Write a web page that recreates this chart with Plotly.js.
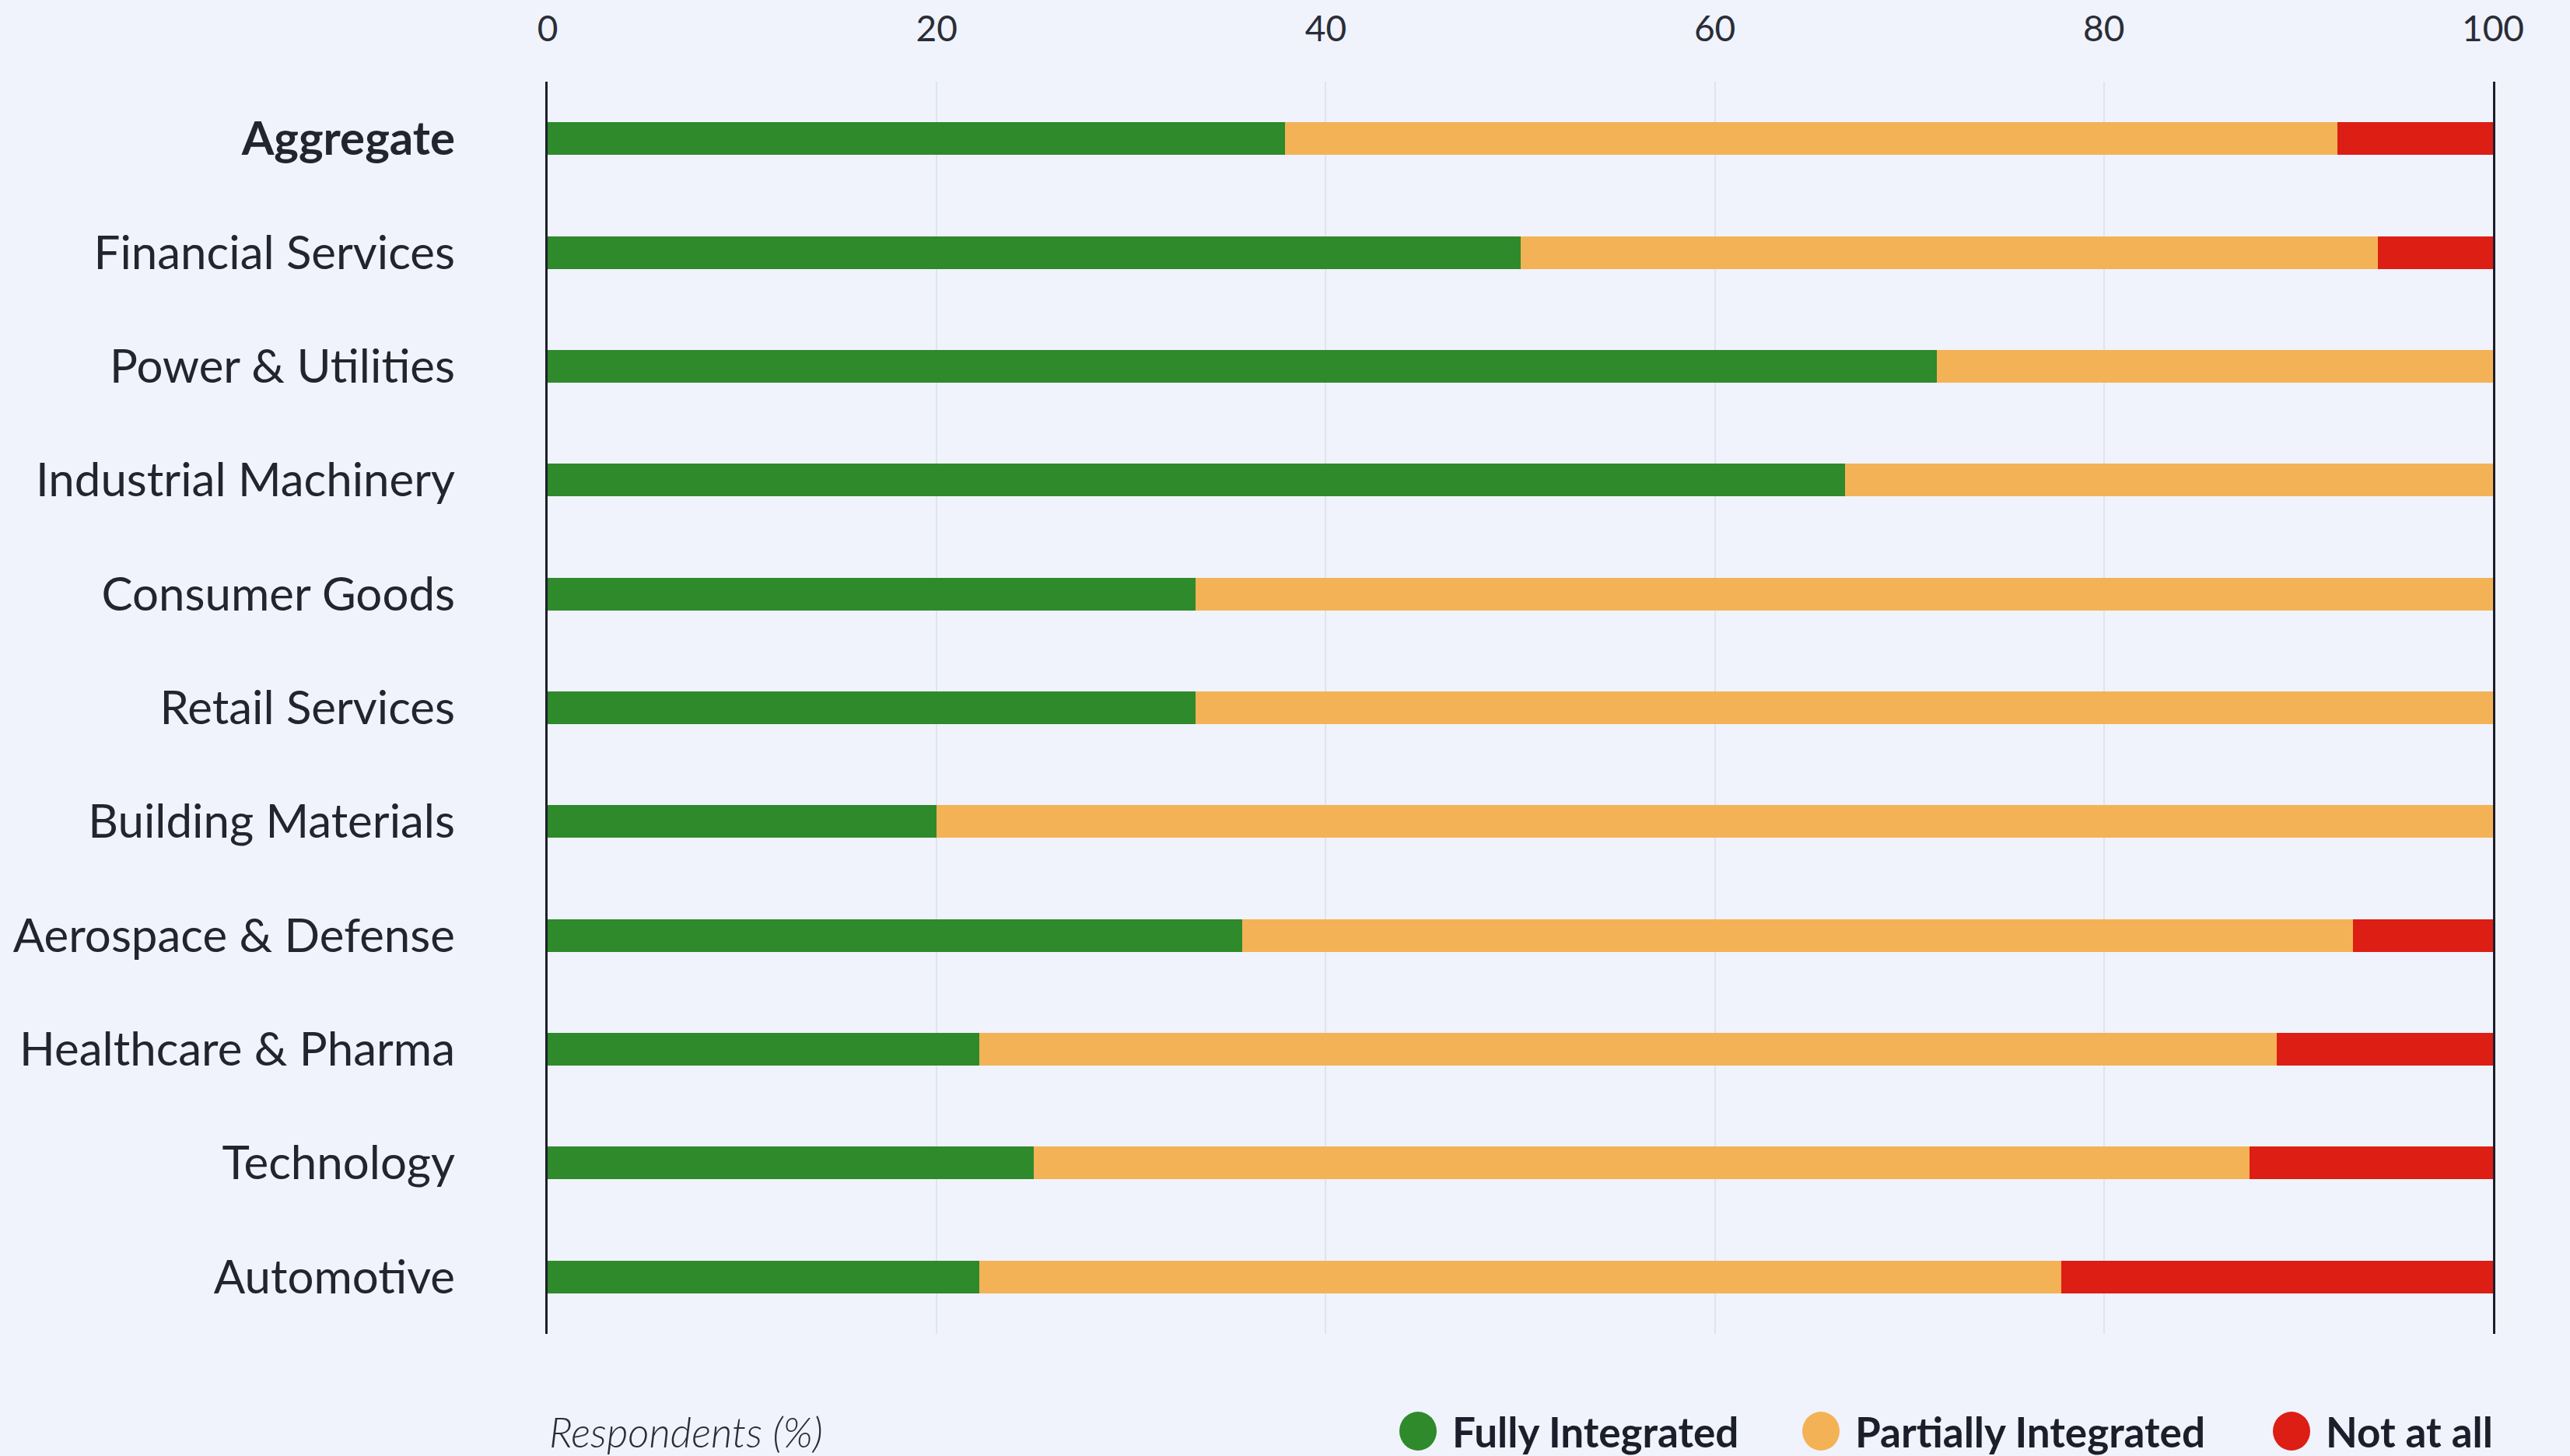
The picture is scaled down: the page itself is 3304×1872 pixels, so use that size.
<!DOCTYPE html>
<html>
<head>
<meta charset="utf-8">
<script src="https://cdn.plot.ly/plotly-3.0.1.min.js"></script>
<style>
  html, body { margin: 0; padding: 0; background: #f0f3fb; }
  #chart { width: 3304px; height: 1872px; }
</style>
</head>
<body>
<div id="chart"></div>
<script>
// ---- Data (respondents, %) ----
const categories = [
  "Aggregate", "Financial Services", "Power & Utilities", "Industrial Machinery",
  "Consumer Goods", "Retail Services", "Building Materials", "Aerospace & Defense",
  "Healthcare & Pharma", "Technology", "Automotive"
];
const fullyIntegrated     = [37.9, 50.0, 71.4, 66.7, 33.3, 33.3, 20.0, 35.7, 22.2, 25.0, 22.2];
const partiallyIntegrated = [54.1, 44.1, 28.6, 33.3, 66.7, 66.7, 80.0, 57.1, 66.7, 62.5, 55.6];
const notAtAll            = [ 8.0,  5.9,  0.0,  0.0,  0.0,  0.0,  0.0,  7.2, 11.1, 12.5, 22.2];
const seriesNames = ["Fully Integrated", "Partially Integrated", "Not at all"];
const xTickVals = [0, 20, 40, 60, 80, 100];
const xTitle = "Respondents (%)";

const colors = ["#2e8a2b", "#f4b256", "#dc1e14"];
const FONT = "Lato, 'Source Sans Pro', 'Noto Sans', sans-serif";

// page geometry (pixels)
const W = 3304, H = 1872;
const M = { l: 704, r: 99, t: 105, b: 157 };
const plotW = W - M.l - M.r, plotH = H - M.t - M.b;
const legendY = 1840;                       // vertical centre of the legend row
const legendDotX = [1823, 2341, 2946];      // dot centres of the three legend entries
const DOT_TO_TEXT = 44;

const seriesValues = [fullyIntegrated, partiallyIntegrated, notAtAll];
const legendIds = ["legend", "legend2", "legend3"];
const traces = seriesValues.map((vals, i) => ({
  type: "bar",
  orientation: "h",
  name: seriesNames[i],
  x: vals,
  y: categories,
  marker: { color: colors[i], line: { width: 0 } },
  showlegend: false,
  hoverinfo: "x+y+name"
}));

// legend entries (round markers)
seriesNames.forEach((n, i) => {
  traces.push({
    type: "scatter",
    mode: "markers",
    name: "<b>" + n + "</b>",
    x: [null], y: [null],
    marker: { color: colors[i], size: 16, symbol: "circle" },
    showlegend: true,
    legend: legendIds[i],
    hoverinfo: "skip"
  });
});

const tickText = categories.map((c, i) => i === 0 ? "<b>" + c + "</b>" : c);

function legendCfg(i) {
  return {
    orientation: "h",
    xref: "container", yref: "container",
    x: (legendDotX[i] - DOT_TO_TEXT) / W,
    xanchor: "left",
    y: 1 - legendY / H,
    yanchor: "middle",
    bgcolor: "rgba(0,0,0,0)",
    borderwidth: 0,
    itemwidth: 2 * DOT_TO_TEXT - 10,
    font: { size: 53, color: "#1c1f2b", family: FONT },
    itemsizing: "trace"
  };
}

// enlarged round legend dots (sit under the legend markers)
const legendShapes = legendDotX.map((cx, i) => ({
  type: "circle",
  xref: "paper", yref: "paper",
  xsizemode: "pixel", ysizemode: "pixel",
  xanchor: (cx - M.l) / plotW,
  yanchor: (M.t + plotH - legendY) / plotH,
  x0: -24, x1: 24, y0: -25, y1: 25,
  fillcolor: colors[i],
  line: { width: 0 },
  layer: "above"
}));

const layout = {
  width: W,
  height: H,
  paper_bgcolor: "#f0f3fb",
  plot_bgcolor: "rgba(0,0,0,0)",
  margin: { l: M.l, r: M.r, t: M.t, b: M.b, pad: 0, autoexpand: false },
  barmode: "stack",
  bargap: 0.713,
  font: { family: FONT, color: "#22252f" },
  xaxis: {
    side: "top",
    range: [0, 100],
    tickvals: xTickVals,
    ticks: "",
    ticklabelstandoff: 42,
    tickfont: { size: 46, color: "#2a2d38" },
    showgrid: true,
    gridcolor: "#dfe4ee",
    gridwidth: 2,
    zeroline: false,
    showline: false,
    fixedrange: true
  },
  yaxis: {
    type: "category",
    autorange: "reversed",
    tickvals: categories,
    ticktext: tickText,
    ticks: "",
    ticklabelstandoff: 104,
    tickfont: { size: 60, color: "#22252f" },
    showgrid: false,
    zeroline: false,
    showline: true,
    mirror: true,
    linecolor: "#1c1f2b",
    linewidth: 3,
    fixedrange: true
  },
  legend: legendCfg(0),
  legend2: legendCfg(1),
  legend3: legendCfg(2),
  shapes: legendShapes,
  annotations: [{
    xref: "paper", yref: "paper",
    x: 0, y: (M.t + plotH - legendY) / plotH,
    xanchor: "left", yanchor: "middle",
    showarrow: false,
    text: "<i>" + xTitle + "</i>",
    font: { size: 53, color: "#2a2d38", family: FONT, weight: 300 }
  }],
  showlegend: true
};

Plotly.newPlot("chart", traces, layout, { displayModeBar: false, staticPlot: true });
</script>
</body>
</html>
